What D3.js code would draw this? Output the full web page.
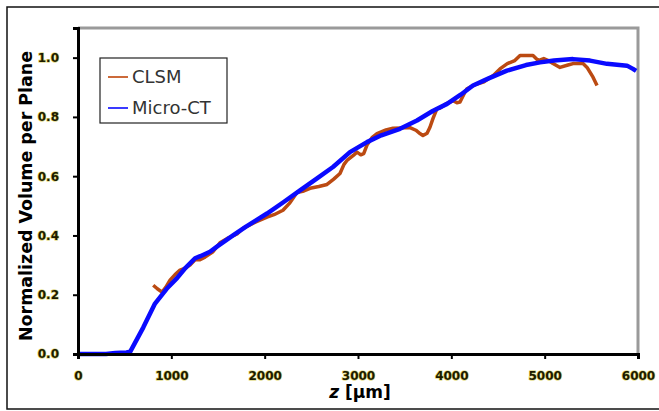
<!DOCTYPE html>
<html>
<head>
<meta charset="utf-8">
<script src="https://cdn.jsdelivr.net/npm/d3@7"></script>
<style>
  body { margin: 0; background: #fff; }
  .tick text { font-family: "DejaVu Sans", Verdana, sans-serif; font-weight: bold; font-size: 12px;
               fill: #1c1a00; stroke: #d8cf62; stroke-width: 1.2px; paint-order: stroke; }
</style>
</head>
<body>
<script>
// z position [µm] and normalized volume
const ctZ = [0, 300, 400, 520, 560, 700, 825, 950, 1061, 1150, 1254, 1310, 1414, 1500, 1661, 1800,
  2025, 2200, 2379, 2550, 2732, 2914, 3096, 3250, 3450, 3632, 3800, 3954, 4100, 4232, 4400, 4596,
  4800, 4950, 5100, 5304, 5486, 5668, 5882, 5946, 5980];
const ctV = [0, 0, 0.003, 0.005, 0.008, 0.09, 0.17, 0.22, 0.256, 0.29, 0.323, 0.33, 0.345, 0.365, 0.40, 0.43,
  0.474, 0.512, 0.552, 0.59, 0.631, 0.681, 0.715, 0.738, 0.760, 0.788, 0.82, 0.844, 0.875, 0.906, 0.93, 0.956,
  0.975, 0.984, 0.99, 0.995, 0.99, 0.979, 0.973, 0.962, 0.955];

const clsmZ = [806, 850, 900, 940, 986, 1040, 1093, 1150, 1200, 1254, 1307, 1361, 1446, 1521, 1600, 1704,
  1768, 1900, 2025, 2100, 2196, 2270, 2346, 2420, 2486, 2580, 2668, 2740, 2807, 2850, 2882, 2950, 2989,
  3030, 3061, 3096, 3150, 3204, 3300, 3375, 3480, 3557, 3620, 3664, 3696, 3740, 3771, 3804, 3846, 3879,
  3950, 4018, 4060, 4093, 4140, 4168, 4250, 4350, 4450, 4521, 4600, 4680, 4736, 4875, 4930, 4990, 5040,
  5089, 5164, 5250, 5304, 5411, 5454, 5518, 5561];
const clsmV = [0.232, 0.22, 0.209, 0.225, 0.249, 0.268, 0.283, 0.29, 0.30, 0.318, 0.318, 0.327, 0.345, 0.375, 0.39, 0.405,
  0.424, 0.445, 0.462, 0.47, 0.485, 0.51, 0.545, 0.55, 0.559, 0.565, 0.572, 0.59, 0.609, 0.64, 0.653, 0.67, 0.681,
  0.672, 0.676, 0.705, 0.73, 0.744, 0.756, 0.762, 0.763, 0.764, 0.755, 0.744, 0.737, 0.745, 0.765, 0.795, 0.828, 0.83,
  0.845, 0.855, 0.848, 0.85, 0.88, 0.895, 0.908, 0.918, 0.94, 0.962, 0.98, 0.99, 1.007, 1.007, 0.99, 0.997, 0.99,
  0.98, 0.967, 0.975, 0.98, 0.98, 0.967, 0.934, 0.906];

const xTicks = [0, 1000, 2000, 3000, 4000, 5000, 6000];
const yTicks = [0, 0.2, 0.4, 0.6, 0.8, 1.0];
const seriesNames = ["CLSM", "Micro-CT"];

const W = 659, H = 411;
const margin = {top: 28, right: 21, bottom: 57, left: 78};

const svg = d3.select("body").append("svg")
  .attr("width", W).attr("height", H);

// outer frame
svg.append("rect")
  .attr("x", 7).attr("y", 7).attr("width", 665).attr("height", 402)
  .attr("fill", "none").attr("stroke", "#111").attr("stroke-width", 1.5);

const x = d3.scaleLinear().domain([0, 6000]).range([margin.left, W - margin.right]);
const y = d3.scaleLinear().domain([0, 1.1]).range([H - margin.bottom, margin.top]);

// grey plot border on top and right
svg.append("path")
  .attr("d", `M${x(0)},${y(1.1)}H${x(6000)}V${y(0)}`)
  .attr("fill", "none").attr("stroke", "#9a9a9a").attr("stroke-width", 3);

const line = d3.line().x(d => x(d[0])).y(d => y(d[1]));

svg.append("path")
  .datum(clsmZ.map((z, i) => [z, clsmV[i]]))
  .attr("d", line)
  .attr("fill", "none").attr("stroke", "#bb4a12").attr("stroke-width", 3.5)
  .attr("stroke-linejoin", "round");

svg.append("path")
  .datum(ctZ.map((z, i) => [z, ctV[i]]))
  .attr("d", line)
  .attr("fill", "none").attr("stroke", "#0a0aff").attr("stroke-width", 4.5)
  .attr("stroke-linejoin", "round");

// axes
const gx = svg.append("g")
  .attr("transform", `translate(0,${y(0)})`)
  .call(d3.axisBottom(x).tickValues(xTicks).tickFormat(d3.format("d")).tickSize(5).tickPadding(12));
const gy = svg.append("g")
  .attr("transform", `translate(${x(0)},0)`)
  .call(d3.axisLeft(y).tickValues(yTicks).tickFormat(d3.format(".1f")).tickSize(5).tickPadding(14));

[gx, gy].forEach(g => {
  g.select(".domain").attr("stroke", "#000").attr("stroke-width", 3);
  g.selectAll(".tick line").attr("stroke", "#000").attr("stroke-width", 2);
});

// axis titles
svg.append("text")
  .attr("transform", `translate(32,196) rotate(-90)`)
  .attr("text-anchor", "middle")
  .attr("textLength", 290).attr("lengthAdjust", "spacingAndGlyphs")
  .style("font-family", "DejaVu Sans, Verdana, sans-serif")
  .style("font-weight", "bold").style("font-size", "17px")
  .attr("fill", "#000")
  .text("Normalized Volume per Plane");

const xt = svg.append("text")
  .attr("x", (x(0) + x(6000)) / 2 + 2).attr("y", 398)
  .attr("text-anchor", "middle")
  .style("font-family", "DejaVu Sans, Verdana, sans-serif")
  .style("font-weight", "bold").style("font-size", "17px")
  .attr("fill", "#000");
xt.append("tspan").style("font-style", "italic").text("z");
xt.append("tspan").text(" [µm]");

// legend
const legend = svg.append("g");
legend.append("rect")
  .attr("x", 100).attr("y", 58).attr("width", 127).attr("height", 65)
  .attr("fill", "#fff").attr("stroke", "#222").attr("stroke-width", 1.2);

const legendColors = ["#cc6a3a", "#3a3aff"];
seriesNames.forEach((name, i) => {
  const cy = 77 + i * 31;
  legend.append("line")
    .attr("x1", 108).attr("x2", 128).attr("y1", cy).attr("y2", cy)
    .attr("stroke", legendColors[i]).attr("stroke-width", 2);
  legend.append("text")
    .attr("x", 132).attr("y", cy + 6)
    .style("font-family", "DejaVu Sans, Verdana, sans-serif")
    .style("font-size", "18px")
    .attr("fill", "#333")
    .text(name);
});
</script>
</body>
</html>
